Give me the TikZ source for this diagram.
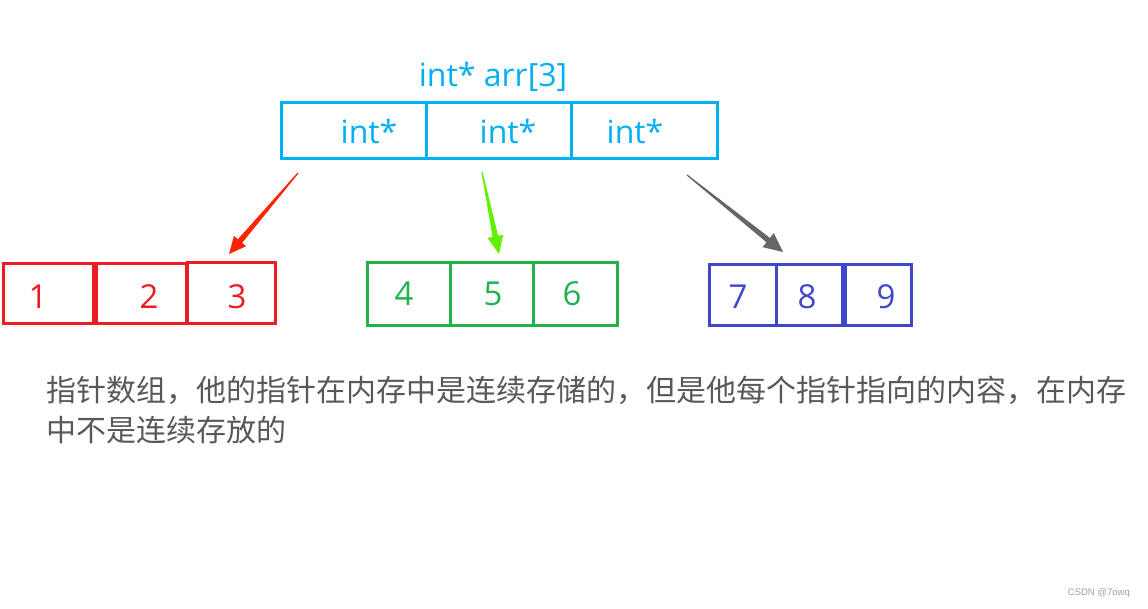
\documentclass[tikz,border=0pt]{standalone}
\usepackage{fontspec}
\setmainfont{Open Sans}
\newfontfamily\cjkfont{Noto Sans CJK SC}
\newfontfamily\wmfont{Liberation Sans}
\usetikzlibrary{calc}
\definecolor{cyanC}{RGB}{0,176,240}
\definecolor{redC}{RGB}{237,28,36}
\definecolor{redA}{RGB}{255,36,0}
\definecolor{greenC}{RGB}{34,177,76}
\definecolor{greenA}{RGB}{96,240,0}
\definecolor{blueC}{RGB}{63,72,204}
\definecolor{grayA}{RGB}{102,102,102}
\definecolor{textC}{RGB}{89,89,89}
\definecolor{wmC}{RGB}{160,160,160}
\newcommand{\taparrow}[5]{% start, tip, colour, head length, head half-width
  \path ($(#2)!#4!(#1)$) coordinate (hb);
  \fill[#3] ($(#1)!0.6pt!90:(#2)$) -- ($(hb)!2.8pt!90:(#2)$) -- ($(hb)!#5!90:(#2)$)
    -- (#2) -- ($(hb)!#5!-90:(#2)$) -- ($(hb)!2.8pt!-90:(#2)$) -- ($(#1)!0.6pt!-90:(#2)$) -- cycle;}
\begin{document}
\begin{tikzpicture}[x=1pt,y=-1pt,
  cellbox/.style={draw, line width=3pt, inner sep=0pt, fill=none},
  lbl/.style={anchor=base, font=\fontsize{32}{38}\selectfont},
  num/.style={anchor=base, font=\fontsize{33}{40}\selectfont}]
\fill[white] (0,0) rectangle (1148,608);
\useasboundingbox (0,0) rectangle (1148,608);
% title
\node[lbl, text=cyanC] (title) at (493,86) {int* arr[3]};
% pointer array
\node[cellbox, draw=cyanC, minimum width=145pt, minimum height=56pt] (p1) at (353.5,130) {};
\node[cellbox, draw=cyanC, minimum width=145pt, minimum height=56pt] (p2) at (498.5,130) {};
\node[cellbox, draw=cyanC, minimum width=146pt, minimum height=56pt] (p3) at (644,130) {};
\node[lbl, text=cyanC] (t1) at (369,143) {int*};
\node[lbl, text=cyanC] (t2) at (508,143) {int*};
\node[lbl, text=cyanC] (t3) at (635,143) {int*};
% red array
\node[cellbox, draw=redC, minimum width=90pt, minimum height=60pt] (r1) at (48,293) {};
\node[cellbox, draw=redC, minimum width=90pt, minimum height=60pt] (r2) at (141,293) {};
\node[cellbox, draw=redC, minimum width=88pt, minimum height=61pt] (r3) at (231,292.5) {};
\node[num, text=redC] (n1) at (38,308) {1};
\node[num, text=redC] (n2) at (149,308) {2};
\node[num, text=redC] (n3) at (237,308) {3};
% green array
\node[cellbox, draw=greenC, minimum width=83pt, minimum height=63pt] (g1) at (408.5,294) {};
\node[cellbox, draw=greenC, minimum width=83pt, minimum height=63pt] (g2) at (491.5,294) {};
\node[cellbox, draw=greenC, minimum width=84pt, minimum height=63pt] (g3) at (575,294) {};
\node[num, text=greenC] (n4) at (404,305) {4};
\node[num, text=greenC] (n5) at (493,305) {5};
\node[num, text=greenC] (n6) at (572,305) {6};
% blue array
\node[cellbox, draw=blueC, minimum width=67pt, minimum height=61pt] (b1) at (742.5,294.5) {};
\node[cellbox, draw=blueC, minimum width=66pt, minimum height=61pt] (b2) at (809,294.5) {};
\node[cellbox, draw=blueC, minimum width=66pt, minimum height=61pt] (b3) at (878,294.5) {};
\node[num, text=blueC] (n7) at (738,308) {7};
\node[num, text=blueC] (n8) at (807,308) {8};
\node[num, text=blueC] (n9) at (886,308) {9};
% arrows
\coordinate (ra0) at (298,173);
\coordinate (ra1) at (229,254);
\coordinate (ga0) at (482,172);
\coordinate (ga1) at (499,254);
\coordinate (ka0) at (687,175);
\coordinate (ka1) at (783,252);
\taparrow{ra0}{ra1}{redA}{17pt}{8pt}
\taparrow{ga0}{ga1}{greenA}{18pt}{8pt}
\taparrow{ka0}{ka1}{grayA}{19pt}{9pt}
% caption
\node[anchor=west, inner sep=0pt, text=textC, font=\cjkfont\fontsize{30}{40}\selectfont] (c1) at (46,390) {指针数组，他的指针在内存中是连续存储的，但是他每个指针指向的内容，在内存};
\node[anchor=west, inner sep=0pt, text=textC, font=\cjkfont\fontsize{30}{40}\selectfont] (c2) at (46,430) {中不是连续存放的};
% watermark
\node[anchor=east, inner sep=0pt, text=wmC, font=\wmfont\fontsize{9.5}{11}\selectfont] (wm) at (1130,593) {CSDN @7owq};
\end{tikzpicture}
\end{document}
